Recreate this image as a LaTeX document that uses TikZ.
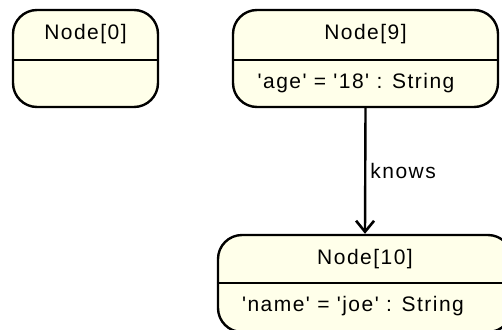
\documentclass[tikz,border=0pt]{standalone}
\usepackage{fontspec}
\setmainfont[LetterSpace=7,Ligatures=TeXOff]{Liberation Sans}
\usetikzlibrary{arrows.meta,positioning}
\definecolor{nodefill}{RGB}{255,255,234}

\begin{document}
\begin{tikzpicture}[x=1pt,y=-1pt,>={Straight Barb[length=11pt,width=18pt,line width=2.6pt]},
  nodebox/.style={draw,line width=2.4pt,fill=nodefill,rounded corners=24pt,inner sep=0pt},
  label/.style={inner sep=0pt,font=\fontsize{21}{24}\selectfont}]
\useasboundingbox (0,0) rectangle (502,329);
\clip (0,0) rectangle (502,329);
\node[nodebox,minimum width=145pt,minimum height=97pt] (n0) at (85.5,58.5) {};
\node[nodebox,minimum width=265pt,minimum height=97pt] (n9) at (365.5,58.5) {};
\node[nodebox,minimum width=294pt,minimum height=97pt] (n10) at (365,283.5) {};
\draw[line width=2.4pt] (n0.west |- 0,60) -- (n0.east |- 0,60);
\draw[line width=2.4pt] (n9.west |- 0,60) -- (n9.east |- 0,60);
\draw[line width=2.4pt] (n10.west |- 0,283) -- (n10.east |- 0,283);
\node[label] (t0) at (85.5,34) {Node[0]};
\node[label] (t9) at (365.5,34) {Node[9]};
\node[label] (a9) at (356,83) {'age' = '18' : String};
\node[label] (t10) at (365,259) {Node[10]};
\node[label] (a10) at (353,306) {'name' = 'joe' : String};
\draw[->,line width=2.4pt] (n9.south) -- node[label,right=4pt] (knows) {knows} (n10.north);
\end{tikzpicture}
\end{document}
